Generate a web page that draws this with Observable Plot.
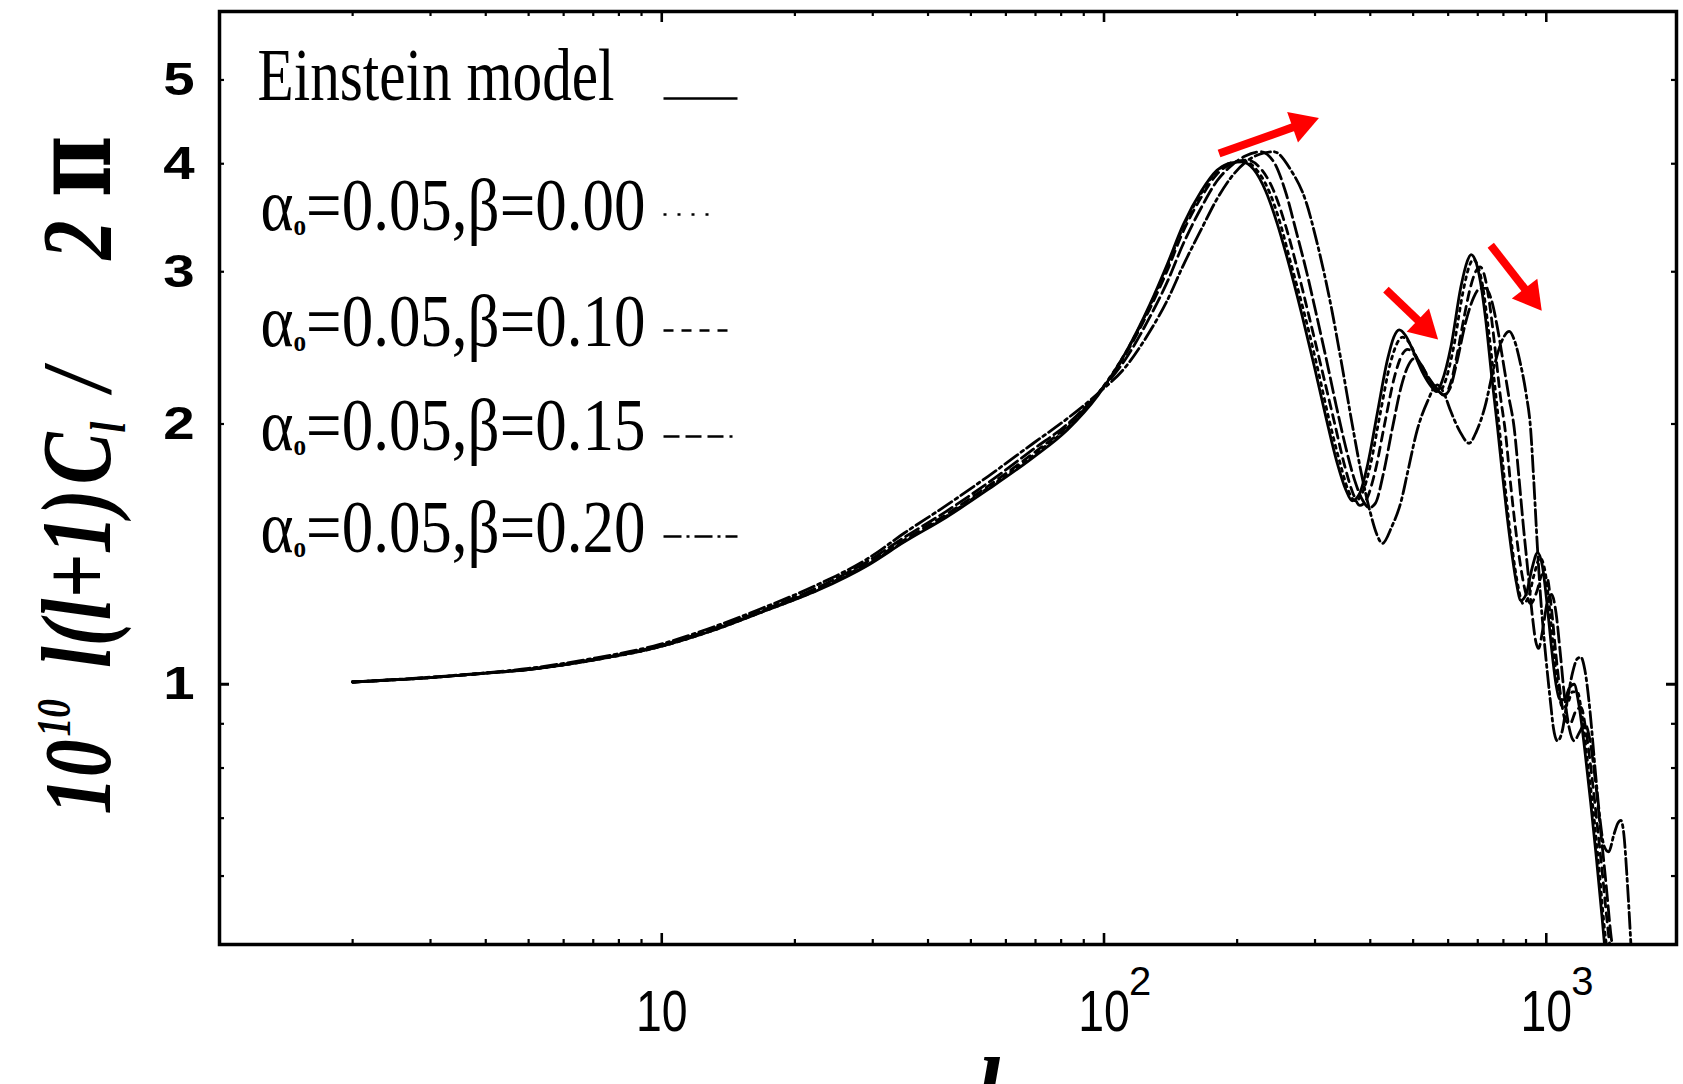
<!DOCTYPE html>
<html><head><meta charset="utf-8">
<script src="https://cdn.jsdelivr.net/npm/d3@7"></script>
<script src="https://cdn.jsdelivr.net/npm/@observablehq/plot@0.6"></script>
<style>html,body{margin:0;padding:0;background:#fff;} svg{display:block;}</style>
</head><body><div id="chart"></div>
<script>
// ---------------- DATA ----------------
// [multipole l, 10^10 l(l+1)C_l/2π]
const einstein = [[2,1.006],[3,1.018],[4,1.03],[5,1.04],[6.9,1.065],[9.9,1.105],[12.8,1.15],[16.7,1.21],[22.6,1.285],[29.4,1.375],[35.3,1.46],[44,1.56],[54.7,1.68],[69.2,1.83],[82.7,1.97],[97,2.16],[112,2.42],[127,2.75],[139,3.06],[151,3.40],[166,3.72],[180,3.93],[194,4.01],[205,4.02],[218,3.94],[232,3.72],[246,3.42],[261,3.08],[280,2.68],[299,2.33],[318,2.03],[337,1.80],[352,1.68],[364,1.63],[378,1.66],[395,1.80],[415,2.06],[438,2.38],[452,2.52],[465,2.57],[481,2.53],[500,2.43],[524,2.30],[546,2.22],[565,2.18],[581,2.24],[609,2.46],[641,2.88],[662,3.08],[676,3.14],[690,3.10],[710,2.92],[729,2.65],[752,2.28],[776,1.98],[795,1.76],[815,1.57],[834,1.43],[856,1.31],[876,1.25],[900,1.27],[928,1.36],[956,1.42],[980,1.37],[1004,1.24],[1028,1.10],[1052,1.00],[1075,0.96],[1099,0.96],[1127,0.99],[1156,1.00],[1184,0.95],[1222,0.84],[1260,0.73],[1298,0.63],[1336,0.54],[1359,0.49]];
const beta000 = [[2,1.006],[3,1.018],[4,1.03],[5,1.04],[6.9,1.065],[9.9,1.105],[12.8,1.15],[16.7,1.21],[22.6,1.287],[29.4,1.378],[35.3,1.463],[44,1.565],[54.7,1.687],[69.2,1.84],[82.7,1.98],[97,2.17],[112,2.42],[127,2.74],[139,3.04],[151,3.38],[166,3.70],[180,3.92],[194,4.01],[207,4.03],[220,3.95],[236,3.72],[250,3.42],[264,3.08],[284,2.68],[304,2.32],[323,2.02],[342,1.80],[356,1.68],[370,1.63],[383,1.66],[400,1.79],[420,2.04],[444,2.35],[460,2.48],[473,2.52],[488,2.49],[507,2.40],[531,2.29],[554,2.22],[574,2.18],[589,2.23],[616,2.44],[648,2.84],[669,3.04],[684,3.10],[698,3.06],[718,2.89],[737,2.62],[761,2.27],[783,1.98],[802,1.75],[821,1.56],[840,1.42],[863,1.30],[886,1.24],[911,1.26],[939,1.34],[968,1.40],[994,1.35],[1018,1.22],[1042,1.08],[1066,0.98],[1090,0.94],[1118,0.95],[1146,0.98],[1175,0.98],[1205,0.92],[1241,0.81],[1279,0.71],[1317,0.61],[1355,0.52],[1374,0.49]];
const beta010 = [[2,1.006],[3,1.018],[4,1.03],[5,1.04],[6.9,1.066],[9.9,1.106],[12.8,1.152],[16.7,1.212],[22.6,1.29],[29.4,1.382],[35.3,1.468],[44,1.572],[54.7,1.695],[69.2,1.85],[82.7,1.99],[97,2.17],[112,2.41],[127,2.72],[139,3.01],[151,3.34],[166,3.66],[180,3.89],[194,4.00],[211,4.04],[225,3.96],[242,3.72],[257,3.40],[272,3.06],[291,2.66],[311,2.31],[331,2.02],[350,1.79],[366,1.66],[379,1.61],[393,1.64],[411,1.77],[431,2.00],[454,2.27],[471,2.40],[486,2.44],[502,2.41],[524,2.33],[548,2.24],[572,2.18],[587,2.16],[606,2.22],[628,2.40],[652,2.66],[674,2.88],[692,3.00],[709,3.04],[725,2.97],[744,2.76],[765,2.46],[786,2.17],[809,1.95],[829,1.72],[850,1.53],[873,1.38],[897,1.28],[923,1.24],[952,1.28],[980,1.34],[1004,1.33],[1028,1.22],[1052,1.08],[1075,0.98],[1103,0.91],[1132,0.90],[1165,0.93],[1199,0.94],[1227,0.89],[1265,0.79],[1303,0.69],[1341,0.60],[1379,0.52],[1398,0.49]];
const beta015 = [[2,1.006],[3,1.018],[4,1.03],[5,1.041],[6.9,1.067],[9.9,1.108],[12.8,1.155],[16.7,1.215],[22.6,1.295],[29.4,1.39],[35.3,1.478],[44,1.585],[54.7,1.71],[69.2,1.87],[82.7,2.00],[97,2.17],[112,2.38],[127,2.66],[139,2.92],[151,3.23],[166,3.56],[180,3.82],[194,3.98],[208,4.08],[226,4.13],[242,4.02],[257,3.72],[272,3.34],[288,2.98],[301,2.70],[318,2.38],[335,2.10],[352,1.88],[369,1.72],[385,1.63],[398,1.60],[411,1.62],[428,1.75],[449,1.98],[471,2.22],[488,2.34],[502,2.38],[519,2.35],[540,2.27],[565,2.20],[587,2.16],[606,2.20],[628,2.36],[657,2.62],[685,2.80],[709,2.87],[730,2.87],[752,2.78],[776,2.58],[800,2.35],[823,2.15],[846,1.98],[866,1.75],[888,1.52],[909,1.35],[930,1.20],[947,1.12],[961,1.10],[980,1.15],[1004,1.24],[1028,1.27],[1052,1.21],[1075,1.09],[1099,0.97],[1127,0.89],[1156,0.86],[1189,0.88],[1222,0.90],[1256,0.86],[1289,0.78],[1326,0.68],[1364,0.59],[1402,0.51],[1417,0.49]];
const beta020 = [[2,1.006],[3,1.019],[4,1.031],[5,1.043],[6.9,1.07],[9.9,1.112],[12.8,1.16],[16.7,1.222],[22.6,1.305],[29.4,1.40],[35.3,1.495],[44,1.61],[54.7,1.74],[69.2,1.90],[82.7,2.03],[97,2.17],[112,2.33],[127,2.56],[139,2.78],[151,3.05],[166,3.36],[180,3.64],[194,3.86],[208,4.01],[224,4.10],[242,4.13],[264,3.94],[287,3.60],[301,3.29],[326,2.74],[345,2.34],[364,2.00],[383,1.74],[400,1.58],[414,1.49],[426,1.455],[447,1.52],[470,1.63],[486,1.76],[511,1.97],[538,2.12],[567,2.22],[587,2.17],[608,2.07],[638,1.96],[669,1.90],[695,1.96],[726,2.09],[762,2.33],[795,2.50],[825,2.56],[847,2.50],[874,2.35],[900,2.17],[922,1.97],[937,1.72],[955,1.44],[971,1.26],[990,1.12],[1006,1.03],[1023,0.95],[1038,0.89],[1060,0.86],[1085,0.88],[1113,0.95],[1146,1.03],[1175,1.07],[1197,1.075],[1222,1.04],[1256,0.93],[1289,0.80],[1322,0.70],[1351,0.65],[1384,0.64],[1422,0.67],[1450,0.69],[1474,0.696],[1498,0.67],[1522,0.60],[1541,0.54],[1557,0.49]];

const legendNames = ["Einstein model", "=0.05,β=0.00", "=0.05,β=0.10", "=0.05,β=0.15", "=0.05,β=0.20"];
const xMajorTicks = [10, 100, 1000];
const xTickBase = ["10", "10", "10"];
const xTickExp = ["", "2", "3"];
const xMinorTicks = [2,3,4,5,6,7,8,9,20,30,40,50,60,70,80,90,200,300,400,500,600,700,800,900];
const yTickLabels = [1, 2, 3, 4, 5];
const yMinorTicks = [0.6, 0.7, 0.8, 0.9, 2, 3, 4, 5];
const yMajorTicks = [1];
// red annotation arrows (data coordinates)
const arrowFromL = [182, 434, 749];
const arrowFromV = [4.11, 2.86, 3.22];
const arrowToL = [292, 549, 947];
const arrowToV = [4.48, 2.55, 2.76];

// ---------------- LAYOUT / STYLE ----------------
const W = 1683, H = 1084, mL = 219, mR = 7, mT = 11, mB = 140;
const xDomain = [1, 1970], yDomain = [0.5, 6];
const plotW = W - mL - mR, plotH = H - mT - mB;
const serif = "'Liberation Serif', 'Times New Roman', Times, serif";
const sans = "'Liberation Sans', Arial, Helvetica, sans-serif";
const dashes = [null, "3,5", "9,6", "15,5", "16,4,3,4"];
const legendDashes = [null, "3,11", "10,8", "16,6", "18,5,3,5"];
const legendBaseline = [99, 229, 345, 449, 551];
const legendTextX = [257, 260, 260, 260, 260];
const legendSquash = [0.79, 0.84, 0.84, 0.84, 0.84];
const legendSwatch = [[663, 737, 98], [663, 719, 214], [663, 727, 330], [663, 732, 436], [663, 737, 536]];

const xS = Plot.scale({x: {type: "log", domain: xDomain, range: [mL, W - mR]}});
const yS = Plot.scale({y: {type: "log", domain: yDomain, range: [H - mB, mT]}});
const lg = Math.log10;
const fwdX = (v) => mL + (lg(v) - lg(xDomain[0])) / (lg(xDomain[1]) - lg(xDomain[0])) * plotW;
const fwdY = (v) => H - mB - (lg(v) - lg(yDomain[0])) / (lg(yDomain[1]) - lg(yDomain[0])) * plotH;
const invX = (p) => xS.invert ? xS.invert(p) : Math.pow(10, lg(xDomain[0]) + (p - mL) / plotW * (lg(xDomain[1]) - lg(xDomain[0])));
const invY = (p) => yS.invert ? yS.invert(p) : Math.pow(10, lg(yDomain[0]) + (H - mB - p) / plotH * (lg(yDomain[1]) - lg(yDomain[0])));
const apX = (v) => xS.apply ? xS.apply(v) : fwdX(v);
const apY = (v) => yS.apply ? yS.apply(v) : fwdY(v);

const series = [beta020, beta015, beta010, beta000, einstein];
const seriesDash = [dashes[4], dashes[3], dashes[2], dashes[1], dashes[0]];

// arrows: shaft + filled triangular head
const arrows = arrowFromL.map((d, i) => {
  const px1 = apX(d), py1 = apY(arrowFromV[i]), px2 = apX(arrowToL[i]), py2 = apY(arrowToV[i]);
  const len = Math.hypot(px2 - px1, py2 - py1), ux = (px2 - px1) / len, uy = (py2 - py1) / len;
  return {
    x1: d, y1: arrowFromV[i],
    x2s: invX(px2 - ux * 14), y2s: invY(py2 - uy * 14),
    hx: invX(px2 - ux * 9), hy: invY(py2 - uy * 9),
    angle: Math.atan2(ux, -uy) * 180 / Math.PI
  };
});

const marks = [];
series.forEach((s, i) => {
  marks.push(Plot.line(s, {x: d => d[0], y: d => d[1], stroke: "black", strokeWidth: 2.8,
    strokeDasharray: seriesDash[i] || undefined, curve: "monotone-x", clip: true, strokeLinejoin: "round"}));
});
// ticks (inward, on all four sides)
marks.push(Plot.tickX(xMinorTicks, {x: d => d, insetTop: plotH - 5, strokeWidth: 2.2}));
marks.push(Plot.tickX(xMajorTicks, {x: d => d, insetTop: plotH - 11, strokeWidth: 2.6}));
marks.push(Plot.tickX(xMinorTicks, {x: d => d, insetBottom: plotH - 5, strokeWidth: 2.2}));
marks.push(Plot.tickX(xMajorTicks, {x: d => d, insetBottom: plotH - 11, strokeWidth: 2.6}));
marks.push(Plot.tickY(yMinorTicks, {y: d => d, insetRight: plotW - 5, strokeWidth: 2.2}));
marks.push(Plot.tickY(yMajorTicks, {y: d => d, insetRight: plotW - 10, strokeWidth: 3}));
marks.push(Plot.tickY(yMinorTicks, {y: d => d, insetLeft: plotW - 5, strokeWidth: 2.2}));
marks.push(Plot.tickY(yMajorTicks, {y: d => d, insetLeft: plotW - 10, strokeWidth: 3}));
marks.push(Plot.frame({stroke: "black", strokeWidth: 3.5}));
// tick labels
marks.push(Plot.text(xMajorTicks, {x: d => d, text: (d, i) => xTickBase[i], frameAnchor: "bottom", dy: 68,
  lineAnchor: "middle", fontSize: 58, fontFamily: sans, fill: "black", ariaDescription: "xtick-base"}));
marks.push(Plot.text(xMajorTicks, {x: d => d, text: (d, i) => xTickExp[i], frameAnchor: "bottom", dx: 36, dy: 38,
  lineAnchor: "middle", fontSize: 40, fontFamily: sans, fill: "black", ariaDescription: "xtick-exp"}));
marks.push(Plot.text(yTickLabels, {y: d => d, text: d => String(d), frameAnchor: "left", dx: -25, textAnchor: "end",
  lineAnchor: "middle", fontSize: 47, fontWeight: "bold", fontFamily: sans, fill: "black", ariaDescription: "ytick-label"}));
// axis titles
marks.push(Plot.text(["l"], {text: d => d, frameAnchor: "bottom", dx: 40, dy: 174, lineAnchor: "bottom",
  fontSize: 88, fontWeight: "bold", fontStyle: "italic", fontFamily: serif, fill: "black"}));
marks.push(Plot.text(["10 10 l(l+1) C l / 2π"], {text: d => d, frameAnchor: "left", dx: -142, dy: -3, rotate: -90,
  lineAnchor: "middle", textAnchor: "middle", fontSize: 100, fontWeight: "bold", fontStyle: "italic", fontFamily: serif,
  fill: "black", ariaDescription: "y-title"}));
// legend
legendNames.forEach((name, i) => {
  marks.push(Plot.text([i === 0 ? name : "αo" + name], {text: d => d, frameAnchor: "top-left",
    dx: legendTextX[i] - mL, dy: legendBaseline[i] - mT, lineAnchor: "bottom", textAnchor: "start",
    fontSize: 75, fontFamily: serif, fill: "black", ariaDescription: "legend-text-" + i}));
  const sw = legendSwatch[i];
  marks.push(Plot.link([{x1: invX(sw[0]), x2: invX(sw[1]), y: invY(sw[2])}], {x1: "x1", x2: "x2", y1: "y", y2: "y",
    stroke: "black", strokeWidth: 2.6, strokeDasharray: legendDashes[i] || undefined}));
});
// red arrows
marks.push(Plot.link(arrows, {x1: "x1", y1: "y1", x2: "x2s", y2: "y2s", stroke: "#ff0000", strokeWidth: 8}));
marks.push(Plot.dot(arrows, {x: "hx", y: "hy", symbol: "triangle", r: 12, rotate: "angle", fill: "#ff0000", stroke: "none"}));

const svg = Plot.plot({
  width: W, height: H, marginLeft: mL, marginRight: mR, marginTop: mT, marginBottom: mB,
  x: {type: "log", domain: xDomain, axis: null},
  y: {type: "log", domain: yDomain, axis: null},
  style: {background: "white", color: "black", overflow: "visible"},
  marks
});
document.getElementById("chart").append(svg);

// ---------------- typographic post-processing ----------------
const S = d3.select(svg);
function texts(desc) { return S.selectAll(`g[aria-description="${desc}"] text`); }
function squeeze(desc, sx) {
  texts(desc).each(function () {
    const t = this.getAttribute("transform") || "";
    this.setAttribute("transform", `${t} scale(${sx},1)`);
  });
}
for (let i = 0; i < legendNames.length; i++) {
  squeeze("legend-text-" + i, legendSquash[i]);
  if (i > 0) {
    texts("legend-text-" + i).each(function () {
      const t = d3.select(this); const rest = legendNames[i];
      t.text(null);
      t.append("tspan").text("α");
      t.append("tspan").attr("font-size", 30).attr("font-weight", "bold").attr("dy", 5).text("o");
      t.append("tspan").attr("dy", -5).text(rest);
    });
  }
}
squeeze("xtick-base", 0.8);
squeeze("ytick-label", 1.2);
squeeze("y-title", 0.78);
texts("y-title").each(function () {
  const t = d3.select(this); t.text(null);
  t.append("tspan").attr("font-size", 96).text("10");
  t.append("tspan").attr("font-size", 48).attr("dy", -40).attr("dx", 4).text("10");
  t.append("tspan").attr("dy", 40).attr("dx", 40).text("l(l+1)");
  t.append("tspan").attr("dx", 6).text("C");
  t.append("tspan").attr("font-size", 50).attr("dy", 16).text("l");
  t.append("tspan").attr("dy", -16).attr("dx", 40).text("/");
  t.append("tspan").attr("dx", 140).text("2");
  t.append("tspan").attr("dx", 30).attr("font-size", 108).attr("font-style", "normal")
    .attr("font-family", "'DejaVu Serif', 'Liberation Serif', serif").text("π");
});
</script></body></html>
